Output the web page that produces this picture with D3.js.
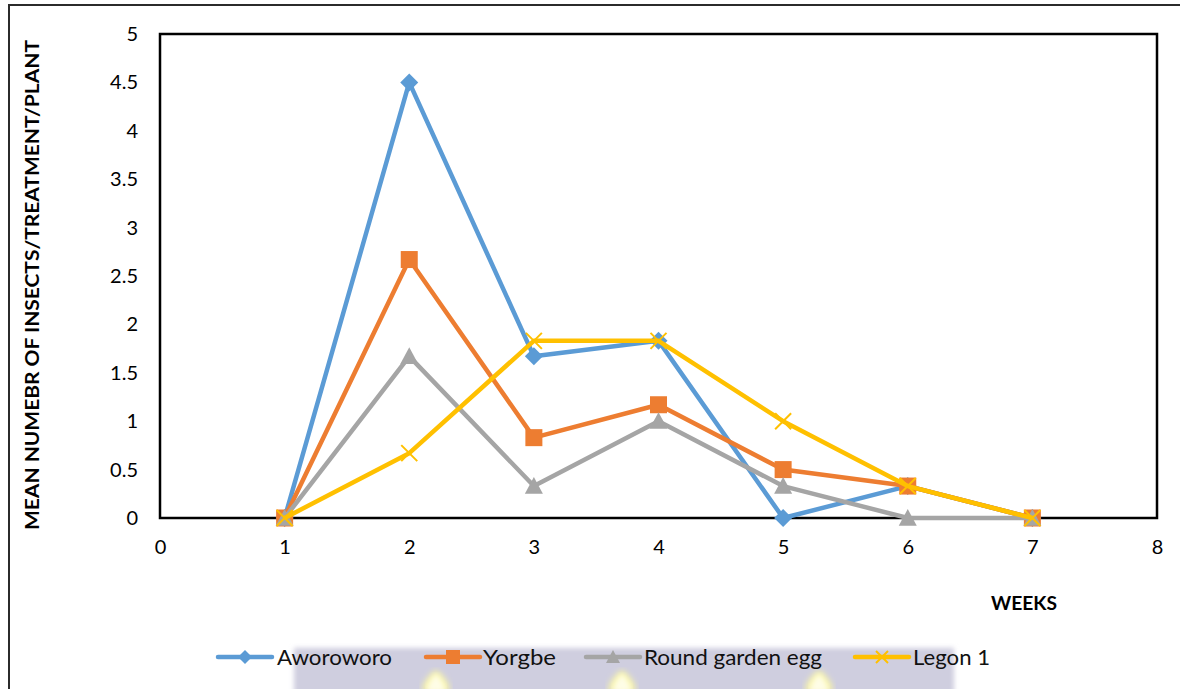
<!DOCTYPE html>
<html>
<head>
<meta charset="utf-8">
<script src="https://cdn.jsdelivr.net/npm/d3@7"></script>
<style>
  html, body { margin: 0; padding: 0; background: #fff; }
  svg { display: block; font-family: Lato, "Open Sans", sans-serif; }
</style>
</head>
<body>
<svg id="chart" width="1180" height="689"></svg>
<script>
// Weekly mean insect counts per treatment
const weeks = [1, 2, 3, 4, 5, 6, 7];
const seriesNames = ["Aworoworo", "Yorgbe", "Round garden egg", "Legon 1"];
const aworoworo = [0, 4.5, 1.67, 1.83, 0, 0.33, 0];
const yorgbe = [0, 2.67, 0.83, 1.17, 0.5, 0.33, 0];
const roundGardenEgg = [0, 1.67, 0.33, 1, 0.33, 0, 0];
const legon1 = [0, 0.67, 1.83, 1.83, 1, 0.33, 0];
const yTicks = [0, 0.5, 1, 1.5, 2, 2.5, 3, 3.5, 4, 4.5, 5];
const xTicks = [0, 1, 2, 3, 4, 5, 6, 7, 8];

const series = [
  { name: seriesNames[0], values: aworoworo, color: "#5b9bd5", marker: "diamond" },
  { name: seriesNames[1], values: yorgbe, color: "#ed7d31", marker: "square" },
  { name: seriesNames[2], values: roundGardenEgg, color: "#a5a5a5", marker: "triangle" },
  { name: seriesNames[3], values: legon1, color: "#ffc000", marker: "cross" }
];

const svg = d3.select("#chart");
const x = d3.scaleLinear().domain([0, 8]).range([160, 1157]);
const y = d3.scaleLinear().domain([0, 5]).range([518, 34]);

// outer frame
svg.append("path")
  .attr("d", "M9,689 L9,5 L1180,5")
  .attr("fill", "none").attr("stroke", "#2b2b2b").attr("stroke-width", 2);

// shaded strip behind the legend
const defs = svg.append("defs");
defs.append("filter").attr("id", "soft")
  .append("feGaussianBlur").attr("stdDeviation", 2.5);
defs.append("filter").attr("id", "glow")
  .append("feGaussianBlur").attr("stdDeviation", 3);
svg.append("rect")
  .attr("x", 294).attr("y", 648).attr("width", 660).attr("height", 50)
  .attr("fill", "#cfcedf").attr("filter", "url(#soft)");
[436, 622, 819].forEach(cx => {
  svg.append("path")
    .attr("d", `M${cx},670 C${cx + 8},676 ${cx + 14},684 ${cx + 14},692 L${cx - 14},692 C${cx - 14},684 ${cx - 8},676 ${cx},670 Z`)
    .attr("fill", "#fbf7a8").attr("filter", "url(#glow)");
  svg.append("path")
    .attr("d", `M${cx},674 C${cx + 5},679 ${cx + 9},685 ${cx + 9},692 L${cx - 9},692 C${cx - 9},685 ${cx - 5},679 ${cx},674 Z`)
    .attr("fill", "#fefde6").attr("filter", "url(#soft)");
});

// axes
const yAxis = d3.axisLeft(y).tickValues(yTicks).tickSize(0).tickPadding(22)
  .tickFormat(d3.format("~g"));
const gy = svg.append("g").attr("transform", `translate(${x(0)},0)`).call(yAxis);
gy.select(".domain").remove();
gy.selectAll("text").attr("font-size", 20).attr("fill", "#000")
  .attr("font-family", "Lato, 'Open Sans', sans-serif");

const xAxis = d3.axisBottom(x).tickValues(xTicks).tickSize(0).tickPadding(22)
  .tickFormat(d3.format("d"));
const gx = svg.append("g").attr("transform", `translate(0,${y(0)})`).call(xAxis);
gx.select(".domain").remove();
gx.selectAll("text").attr("font-size", 20).attr("fill", "#000")
  .attr("font-family", "Lato, 'Open Sans', sans-serif");

// plot area border
svg.append("rect")
  .attr("x", x(0)).attr("y", y(5))
  .attr("width", x(8) - x(0)).attr("height", y(0) - y(5))
  .attr("fill", "none").attr("stroke", "#000").attr("stroke-width", 2.5);

// axis titles
svg.append("text")
  .attr("transform", `translate(39,285) rotate(-90)`)
  .attr("text-anchor", "middle")
  .attr("font-size", 19).attr("font-weight", "bold")
  .attr("textLength", 490).attr("lengthAdjust", "spacingAndGlyphs")
  .text("MEAN NUMEBR OF INSECTS/TREATMENT/PLANT");
svg.append("text")
  .attr("x", 1024).attr("y", 610)
  .attr("text-anchor", "middle")
  .attr("font-size", 19).attr("font-weight", "bold")
  .attr("textLength", 66).attr("lengthAdjust", "spacingAndGlyphs")
  .text("WEEKS");

// marker drawing
function drawMarker(g, type, color, cx, cy, s) {
  if (type === "diamond") {
    g.append("path").attr("d", `M${cx},${cy - s} L${cx + s},${cy} L${cx},${cy + s} L${cx - s},${cy} Z`)
      .attr("fill", color);
  } else if (type === "square") {
    g.append("rect").attr("x", cx - s).attr("y", cy - s).attr("width", 2 * s).attr("height", 2 * s)
      .attr("fill", color);
  } else if (type === "triangle") {
    g.append("path").attr("d", `M${cx},${cy - s} L${cx + s},${cy + s * 0.85} L${cx - s},${cy + s * 0.85} Z`)
      .attr("fill", color);
  } else {
    g.append("path").attr("d", `M${cx - s},${cy - s} L${cx + s},${cy + s} M${cx + s},${cy - s} L${cx - s},${cy + s}`)
      .attr("stroke", color).attr("stroke-width", 2);
  }
}
const markerSize = { diamond: 9, square: 8.5, triangle: 9, cross: 8 };

const line = d3.line().x((d, i) => x(weeks[i])).y(d => y(d));
series.forEach(s => {
  const g = svg.append("g");
  g.append("path").datum(s.values).attr("d", line)
    .attr("fill", "none").attr("stroke", s.color).attr("stroke-width", 4.5)
    .attr("stroke-linejoin", "round");
  s.values.forEach((v, i) => drawMarker(g, s.marker, s.color, x(weeks[i]), y(v), markerSize[s.marker]));
});

// legend
const legendItems = [
  { lx: 218, tx: 277, w: 115 },
  { lx: 426, tx: 483, w: 73 },
  { lx: 586, tx: 644, w: 178 },
  { lx: 855, tx: 913, w: 77 }
];
const ly = 657;
series.forEach((s, i) => {
  const g = svg.append("g");
  const it = legendItems[i];
  g.append("line").attr("x1", it.lx).attr("x2", it.lx + 54).attr("y1", ly).attr("y2", ly)
    .attr("stroke", s.color).attr("stroke-width", 4.5).attr("stroke-linecap", "round");
  drawMarker(g, s.marker, s.color, it.lx + 27, ly, s.marker === "cross" ? 6 : 7);
  g.append("text").attr("x", it.tx).attr("y", ly).attr("dy", "0.36em")
    .attr("font-size", 21).attr("fill", "#111")
    .attr("textLength", it.w).attr("lengthAdjust", "spacingAndGlyphs")
    .text(s.name);
});
</script>
</body>
</html>
